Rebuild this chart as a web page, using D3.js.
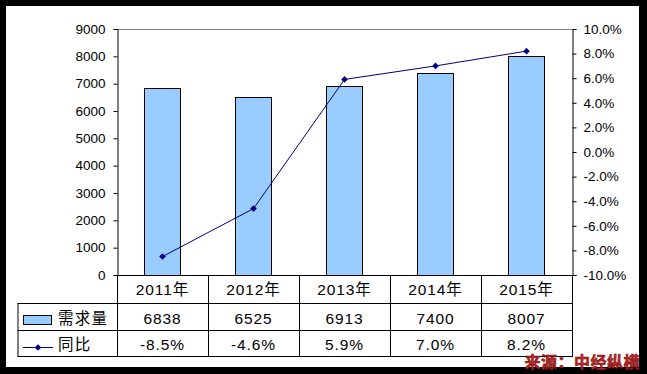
<!DOCTYPE html>
<html>
<head>
<meta charset="utf-8">
<script src="https://cdn.jsdelivr.net/npm/d3@7/dist/d3.min.js"></script>
<style>
  body { margin: 0; background: #000; }
  svg { display: block; font-family: "Liberation Sans", Arial, "Noto Sans CJK SC", sans-serif; }
</style>
</head>
<body>
<div id="chart"></div>
<script>
  // chart data
  const years = ['2011年', '2012年', '2013年', '2014年', '2015年'];
  const demand = [6838, 6525, 6913, 7400, 8007];
  const yoy = [-8.5, -4.6, 5.9, 7.0, 8.2];
  const leftTicks = [0, 1000, 2000, 3000, 4000, 5000, 6000, 7000, 8000, 9000];
  const rightTicks = [-10, -8, -6, -4, -2, 0, 2, 4, 6, 8, 10];
  const seriesNames = ['需求量', '同比'];
  const sourceText = '来源：中经纵横';

  const width = 647, height = 374;
  const plot = { left: 117, right: 572, top: 29, bottom: 275 };
  const tableLeft = 17.5;
  const rowTops = [275, 303, 330, 356];
  const navy = '#000080';

  const svg = d3.select('#chart')
    .append('svg')
    .attr('width', width)
    .attr('height', height);

  // black frame, white page
  svg.append('rect').attr('width', width).attr('height', height).attr('fill', '#000');
  svg.append('rect').attr('x', 6).attr('y', 6).attr('width', 633).attr('height', 361).attr('fill', '#fff');

  const x = d3.scaleBand().domain(years).range([plot.left, plot.right]);
  const yLeft = d3.scaleLinear().domain([0, 9000]).range([plot.bottom, plot.top]);
  const yRight = d3.scaleLinear().domain([-10, 10]).range([plot.bottom, plot.top]);

  // top border of plot area
  svg.append('line')
    .attr('x1', plot.left).attr('x2', plot.right)
    .attr('y1', plot.top + 0.5).attr('y2', plot.top + 0.5)
    .attr('stroke', '#808080');

  // left axis
  const leftAxis = svg.append('g')
    .attr('transform', `translate(${plot.left + 0.5},0)`)
    .call(d3.axisLeft(yLeft).tickValues(leftTicks).tickSize(4).tickPadding(8).tickFormat(d3.format('d')));
  leftAxis.select('.domain').attr('stroke', '#000');
  leftAxis.selectAll('text').style('font-size', '13.5px').attr('fill', '#000');

  // right axis
  const rightAxis = svg.append('g')
    .attr('transform', `translate(${plot.right + 0.5},0)`)
    .call(d3.axisRight(yRight).tickValues(rightTicks).tickSize(4).tickPadding(7).tickFormat(d => d.toFixed(1) + '%'));
  rightAxis.select('.domain').attr('stroke', '#000');
  rightAxis.selectAll('text').style('font-size', '13.5px').attr('fill', '#000');

  // bars
  const barW = x.bandwidth() * 0.4;
  svg.selectAll('.bar')
    .data(demand)
    .enter()
    .append('rect')
    .attr('class', 'bar')
    .attr('x', (d, i) => Math.round(x(years[i]) + (x.bandwidth() - barW) / 2) + 0.5)
    .attr('y', d => Math.round(yLeft(d)) + 0.5)
    .attr('width', Math.round(barW))
    .attr('height', d => plot.bottom - Math.round(yLeft(d)))
    .attr('fill', '#99ccff')
    .attr('stroke', '#000')
    .attr('stroke-width', 1);

  // line
  const cx = (d, i) => x(years[i]) + x.bandwidth() / 2;
  const line = d3.line().x(cx).y(d => yRight(d));
  svg.append('path')
    .datum(yoy)
    .attr('d', line)
    .attr('fill', 'none')
    .attr('stroke', navy)
    .attr('stroke-width', 1);

  const diamond = d3.symbol().type(d3.symbolDiamond2).size(28);
  svg.selectAll('.marker')
    .data(yoy)
    .enter()
    .append('path')
    .attr('class', 'marker')
    .attr('d', diamond)
    .attr('transform', (d, i) => `translate(${cx(d, i)},${yRight(d)})`)
    .attr('fill', navy);

  // data table
  const grid = svg.append('g').attr('stroke', '#000').attr('stroke-width', 1);
  // x axis / table top
  grid.append('line')
    .attr('x1', plot.left).attr('x2', plot.right)
    .attr('y1', plot.bottom + 0.5).attr('y2', plot.bottom + 0.5);
  rowTops.slice(1).forEach(yy => {
    grid.append('line')
      .attr('x1', tableLeft).attr('x2', plot.right)
      .attr('y1', yy + 0.5).attr('y2', yy + 0.5);
  });
  // vertical lines
  grid.append('line')
    .attr('x1', tableLeft + 0.5).attr('x2', tableLeft + 0.5)
    .attr('y1', rowTops[1]).attr('y2', rowTops[3] + 1);
  years.forEach(yr => {
    grid.append('line')
      .attr('x1', Math.round(x(yr)) + 0.5).attr('x2', Math.round(x(yr)) + 0.5)
      .attr('y1', plot.bottom).attr('y2', rowTops[3] + 1);
  });
  grid.append('line')
    .attr('x1', plot.right + 0.5).attr('x2', plot.right + 0.5)
    .attr('y1', plot.bottom).attr('y2', rowTops[3] + 1);

  const cellText = (txt, cxp, baseline) => svg.append('text')
    .attr('x', cxp)
    .attr('y', baseline)
    .attr('text-anchor', 'middle')
    .style('font-size', '15.5px')
    .style('letter-spacing', '0.9px')
    .attr('fill', '#000')
    .text(txt);

  years.forEach((yr, i) => {
    const c = x(yr) + x.bandwidth() / 2;
    cellText(yr, c, 295);
    cellText(demand[i], c, 324);
    cellText(yoy[i].toFixed(1) + '%', c, 350);
  });

  // legend keys in the table
  svg.append('rect')
    .attr('x', 23.5).attr('y', 315.5)
    .attr('width', 28).attr('height', 9)
    .attr('fill', '#99ccff').attr('stroke', '#000');
  svg.append('line')
    .attr('x1', 23).attr('x2', 53)
    .attr('y1', 347.5).attr('y2', 347.5)
    .attr('stroke', navy);
  svg.append('path')
    .attr('d', diamond)
    .attr('transform', 'translate(38,347.5)')
    .attr('fill', navy);

  seriesNames.forEach((name, i) => {
    svg.append('text')
      .attr('x', 58)
      .attr('y', [324, 350][i])
      .style('font-size', '15.5px')
      .style('letter-spacing', '1.2px')
      .attr('fill', '#000')
      .text(name);
  });

  // source note
  svg.append('text')
    .attr('x', 640)
    .attr('y', 368)
    .attr('text-anchor', 'end')
    .style('font-size', '16px')
    .style('font-weight', 'bold')
    .style('letter-spacing', '0.5px')
    .attr('fill', '#c82424')
    .attr('stroke', '#5a0a0a')
    .attr('stroke-width', 0.5)
    .text(sourceText);
</script>
</body>
</html>
